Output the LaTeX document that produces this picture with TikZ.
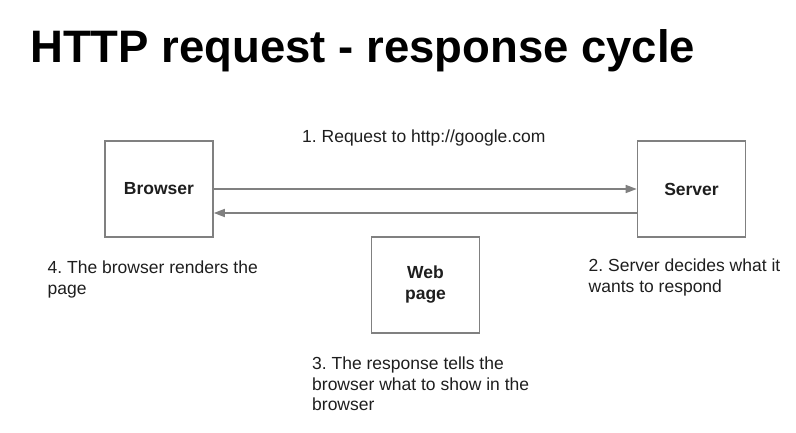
\documentclass[tikz,border=0pt]{standalone}
\usepackage{fontspec}
\setmainfont{Liberation Sans}
\frenchspacing
\usetikzlibrary{arrows.meta}
\definecolor{linegray}{RGB}{128,128,128}
\definecolor{textgray}{RGB}{30,30,30}

\begin{document}
\begin{tikzpicture}[x=1pt, y=-1pt,
    box/.style={draw=linegray, line width=1.6pt, minimum width=108pt, minimum height=96pt,
        inner sep=0pt, align=center, font=\fontsize{17.5}{21}\selectfont\bfseries, text=textgray},
    lbl/.style={inner sep=0pt, align=left, font=\fontsize{17.5}{20.5}\selectfont, text=textgray},
    link/.style={draw=linegray, line width=1.6pt, -{Triangle[length=11pt,width=8pt]}}]
\useasboundingbox (0,0) rectangle (796,433);
\node [anchor=base west, inner sep=0pt, font=\fontsize{45.5}{50}\selectfont\bfseries] (title) at (30,63) {HTTP request - response cycle};
\node [box] (browser) at (159,189) {Browser};
\node [box] (server) at (691.5,189) {Server};
\node [box] (webpage) at (425.5,285) {Web\\page};
\draw [link] (browser.east) -- (server.west);
\draw [link] ([yshift=-24pt]server.west) -- ([yshift=-24pt]browser.east);
\node [lbl, anchor=base west] (request) at (302,143) {1. Request to http://google.com};
\node [lbl, anchor=north west] (decides) at (588.5,259) {2. Server decides what it\\wants to respond};
\node [lbl, anchor=north west] (tells) at (312,357) {3. The response tells the\\browser what to show in the\\browser};
\node [lbl, anchor=north west] (renders) at (47.5,261) {4. The browser renders the\\page};
\end{tikzpicture}
\end{document}
